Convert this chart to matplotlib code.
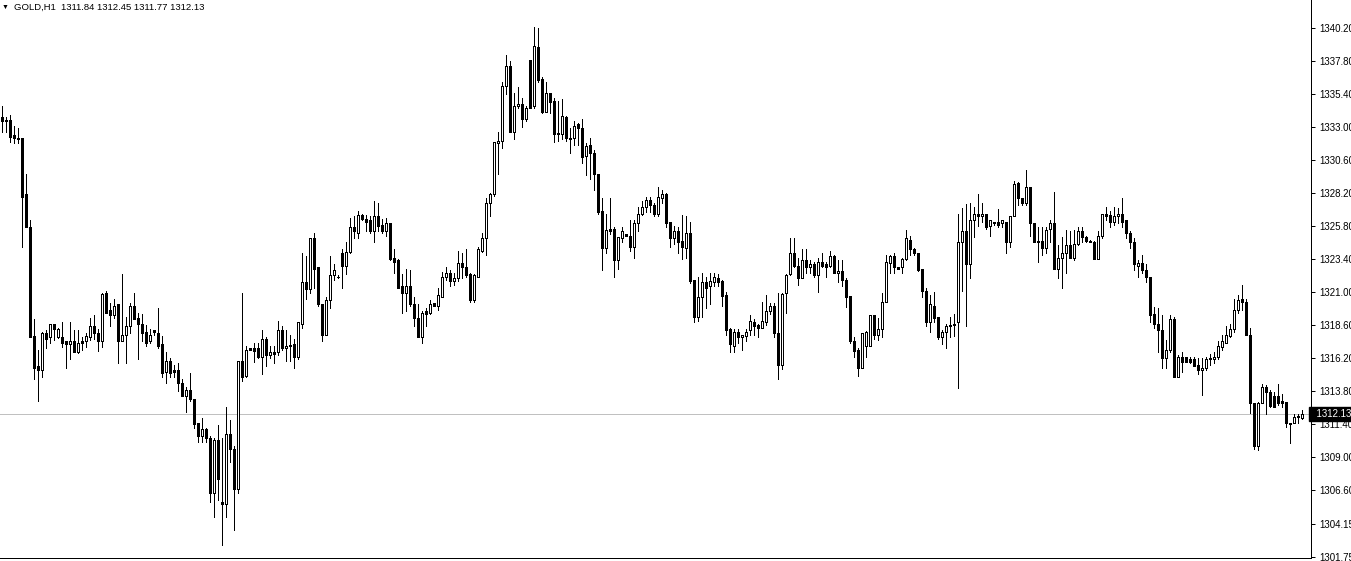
import matplotlib
matplotlib.use("Agg")
import matplotlib.pyplot as plt
import matplotlib.transforms as mtransforms

plt.rcParams['font.family'] = ['Liberation Sans', 'DejaVu Sans']

# chart header / axis values
symbol = "GOLD,H1"
last_ohlc = ["1311.84", "1312.45", "1311.77", "1312.13"]
bid = 1312.13
price_ticks = [1340.20, 1337.80, 1335.40, 1333.00, 1330.60, 1328.20, 1325.80, 1323.40,
               1321.00, 1318.60, 1316.20, 1313.80, 1311.40, 1309.00, 1306.60, 1304.15, 1301.75]
price_labels = ["%.2f" % p for p in price_ticks]

# hourly candles, oldest first
opens = [
    1333.7, 1333.5, 1333.5, 1332.4, 1332.2, 1332.2, 1328.1, 1325.7, 1317.8, 1315.6,
    1315.3, 1318.0, 1317.7, 1318.7, 1317.7, 1317.7, 1317.4, 1317.2, 1317.4, 1316.6,
    1317.4, 1317.4, 1317.7, 1318.5, 1318.0, 1317.4, 1320.9, 1319.7, 1319.3, 1320.1,
    1317.4, 1317.9, 1318.5, 1320.0, 1319.1, 1318.7, 1318.1, 1317.4, 1318.2, 1318.0,
    1317.2, 1315.2, 1316.0, 1315.3, 1315.3, 1314.4, 1313.4, 1313.9, 1313.2, 1311.5,
    1310.5, 1311.0, 1310.4, 1306.4, 1310.2, 1305.7, 1305.6, 1310.7, 1309.6, 1306.7,
    1316.0, 1314.9, 1316.9, 1316.9, 1316.9, 1316.3, 1317.6, 1316.4, 1316.6, 1316.6,
    1318.2, 1316.9, 1317.15, 1317.2, 1316.3, 1318.7, 1321.7, 1321.2, 1324.9, 1322.8,
    1320.1, 1317.9, 1320.4, 1322.2, 1322.1, 1323.8, 1322.9, 1323.9, 1325.7, 1325.3,
    1326.6, 1326.3, 1326.2, 1325.4, 1326.5, 1325.9, 1325.4, 1326.0, 1323.5, 1323.3,
    1321.4, 1320.9, 1321.4, 1320.1, 1319.1, 1317.7, 1319.6, 1319.5, 1320.2, 1320.0,
    1320.6, 1322.1, 1322.4, 1321.8, 1322.0, 1323.1, 1322.8, 1322.3, 1320.4, 1322.1,
    1324.0, 1324.9, 1327.5, 1328.1, 1331.8, 1332.0, 1336.0, 1337.4, 1332.6, 1334.5,
    1334.7, 1333.6, 1337.9, 1334.5, 1338.8, 1336.5, 1334.1, 1335.5, 1334.9, 1332.55,
    1332.5, 1333.7, 1332.2, 1332.2, 1333.2, 1332.9, 1330.9, 1331.7, 1331.1, 1329.6,
    1326.9, 1324.2, 1325.6, 1325.6, 1323.3, 1324.9, 1325.2, 1325.1, 1324.3, 1326.0,
    1326.7, 1327.2, 1327.7, 1327.3, 1326.7, 1327.8, 1328.1, 1326.1, 1324.9, 1325.4,
    1324.7, 1324.2, 1325.3, 1321.9, 1319.2, 1320.6, 1321.7, 1321.4, 1321.7, 1322.0,
    1321.8, 1320.8, 1318.3, 1317.1, 1318.1, 1317.7, 1317.8, 1318.2, 1318.8, 1318.6,
    1318.4, 1318.8, 1319.6, 1320.0, 1318.0, 1315.7, 1320.9, 1322.3, 1323.8, 1322.9,
    1322.0, 1323.3, 1322.8, 1323.0, 1322.2, 1323.2, 1323.0, 1322.9, 1323.6, 1322.4,
    1322.5, 1321.9, 1320.7, 1317.4, 1316.8, 1315.5, 1317.1, 1317.1, 1319.3, 1317.9,
    1318.3, 1320.3, 1323.1, 1323.6, 1322.8, 1322.8, 1323.4, 1324.8, 1324.1, 1323.8,
    1322.7, 1321.1, 1318.8, 1320.0, 1319.2, 1317.7, 1318.1, 1318.5, 1318.6, 1318.8,
    1324.6, 1325.4, 1323.0, 1326.2, 1326.7, 1326.5, 1326.7, 1325.8, 1326.1, 1326.1,
    1326.0, 1326.1, 1324.6, 1326.5, 1328.9, 1327.8, 1327.5, 1328.6, 1326.0, 1324.7,
    1324.7, 1324.2, 1325.6, 1326.0, 1322.7, 1323.5, 1323.8, 1324.4, 1323.5, 1324.5,
    1325.4, 1325.0, 1324.7, 1324.6, 1323.4, 1325.1, 1326.7, 1326.6, 1326.1, 1326.5,
    1326.7, 1326.2, 1325.3, 1324.6, 1322.9, 1323.1, 1322.6, 1322.1, 1319.4, 1318.7,
    1318.2, 1316.2, 1316.8, 1319.0, 1314.8, 1316.3, 1316.3, 1316.1, 1316.1, 1315.7,
    1315.3, 1315.5, 1316.1, 1316.1, 1316.3, 1317.0, 1317.3, 1317.8, 1318.3, 1319.7,
    1320.5, 1320.3, 1317.9, 1312.9, 1309.8, 1312.9, 1314.1, 1313.7, 1313.4, 1313.4,
    1313.1, 1313.0, 1311.5, 1311.5, 1311.9, 1311.84,
]
highs = [
    1334.5, 1333.7, 1333.9, 1333.1, 1332.9, 1332.2, 1329.6, 1326.2, 1319.0, 1316.8,
    1318.1, 1318.2, 1318.7, 1318.7, 1318.4, 1318.8, 1317.4, 1318.8, 1318.2, 1318.2,
    1317.7, 1318.0, 1319.1, 1319.3, 1318.3, 1320.95, 1321.1, 1320.2, 1320.5, 1320.1,
    1322.3, 1319.2, 1320.2, 1320.9, 1319.5, 1319.4, 1318.6, 1318.3, 1318.2, 1319.8,
    1317.8, 1316.6, 1316.2, 1315.7, 1315.8, 1314.7, 1314.1, 1315.1, 1313.2, 1311.5,
    1311.8, 1311.1, 1310.5, 1310.4, 1311.3, 1310.4, 1312.6, 1311.7, 1309.8, 1316.0,
    1320.9, 1317.1, 1316.9, 1317.3, 1317.3, 1318.2, 1317.7, 1317.1, 1317.1, 1318.9,
    1318.5, 1318.2, 1317.9, 1317.6, 1318.8, 1323.8, 1323.6, 1324.9, 1325.3, 1322.8,
    1320.1, 1320.6, 1323.6, 1323.0, 1322.2, 1324.1, 1324.6, 1326.4, 1326.5, 1326.9,
    1326.7, 1326.6, 1326.5, 1327.6, 1327.5, 1326.3, 1326.4, 1326.0, 1324.1, 1323.4,
    1322.3, 1322.7, 1322.6, 1320.6, 1320.1, 1319.6, 1319.8, 1320.4, 1320.2, 1321.3,
    1322.45, 1322.8, 1322.6, 1322.4, 1324.0, 1323.8, 1324.1, 1322.4, 1322.3, 1324.3,
    1325.3, 1327.8, 1328.2, 1331.9, 1332.6, 1336.3, 1338.2, 1337.8, 1335.5, 1335.9,
    1335.1, 1334.5, 1337.9, 1340.3, 1340.2, 1336.6, 1336.3, 1335.5, 1335.1, 1334.9,
    1335.0, 1333.8, 1332.9, 1333.4, 1333.3, 1333.6, 1331.8, 1332.2, 1331.3, 1329.6,
    1327.8, 1326.7, 1327.8, 1325.7, 1325.0, 1325.7, 1325.2, 1326.2, 1326.2, 1327.2,
    1327.6, 1327.9, 1327.9, 1327.5, 1328.6, 1328.4, 1328.2, 1326.1, 1325.8, 1325.7,
    1326.6, 1326.5, 1326.1, 1321.9, 1322.1, 1322.4, 1322.1, 1322.4, 1322.4, 1322.3,
    1321.9, 1321.0, 1318.4, 1318.3, 1318.3, 1317.9, 1318.3, 1319.3, 1319.0, 1318.7,
    1320.3, 1320.8, 1320.2, 1320.2, 1320.9, 1320.95, 1322.3, 1324.9, 1324.9, 1323.5,
    1324.1, 1324.1, 1323.3, 1323.2, 1323.5, 1323.8, 1323.2, 1324.0, 1323.7, 1323.3,
    1323.3, 1322.0, 1320.7, 1317.7, 1316.9, 1318.0, 1318.15, 1319.3, 1319.3, 1319.1,
    1320.9, 1323.7, 1323.7, 1323.8, 1322.8, 1323.5, 1325.5, 1325.1, 1324.2, 1323.8,
    1322.7, 1321.3, 1320.8, 1321.0, 1319.2, 1318.2, 1318.7, 1319.2, 1319.4, 1326.7,
    1327.1, 1327.4, 1327.5, 1327.2, 1328.1, 1327.5, 1326.7, 1326.25, 1326.1, 1327.0,
    1326.2, 1326.1, 1326.5, 1329.1, 1329.0, 1327.8, 1329.9, 1328.6, 1326.0, 1325.7,
    1325.7, 1325.7, 1326.2, 1328.3, 1324.4, 1325.0, 1325.5, 1325.4, 1325.5, 1325.7,
    1325.7, 1325.1, 1324.8, 1324.7, 1325.4, 1326.7, 1327.2, 1326.9, 1327.2, 1327.1,
    1327.8, 1326.2, 1325.4, 1324.9, 1323.3, 1323.7, 1323.0, 1322.1, 1319.9, 1319.8,
    1319.3, 1317.5, 1319.3, 1319.2, 1316.4, 1316.6, 1316.3, 1316.3, 1316.3, 1316.2,
    1316.2, 1316.3, 1316.5, 1316.6, 1317.4, 1317.9, 1318.5, 1318.7, 1320.5, 1320.8,
    1321.5, 1320.5, 1318.4, 1312.9, 1313.0, 1314.3, 1314.2, 1313.9, 1313.7, 1314.3,
    1313.6, 1313.0, 1311.5, 1312.1, 1312.1, 1312.45,
]
lows = [
    1332.6, 1332.6, 1331.9, 1331.8, 1331.8, 1324.3, 1325.7, 1317.7, 1314.7, 1313.1,
    1314.8, 1316.9, 1317.3, 1317.5, 1317.66, 1317.0, 1315.5, 1316.1, 1316.6, 1316.55,
    1316.8, 1317.0, 1317.5, 1317.6, 1316.7, 1317.0, 1319.5, 1318.5, 1319.1, 1315.8,
    1317.4, 1315.8, 1318.0, 1319.0, 1316.1, 1317.4, 1317.1, 1317.3, 1317.9, 1316.9,
    1314.8, 1314.4, 1314.8, 1314.8, 1313.8, 1313.4, 1312.3, 1313.1, 1311.1, 1310.1,
    1310.1, 1310.1, 1305.7, 1304.6, 1305.9, 1302.6, 1304.6, 1308.6, 1303.7, 1306.4,
    1314.5, 1314.8, 1316.8, 1315.9, 1316.2, 1315.0, 1315.6, 1316.2, 1315.8, 1316.4,
    1316.8, 1316.0, 1316.0, 1315.5, 1316.1, 1318.4, 1320.5, 1320.9, 1321.3, 1320.0,
    1317.4, 1317.9, 1319.8, 1321.9, 1322.0, 1321.3, 1322.3, 1323.8, 1324.9, 1324.9,
    1326.2, 1325.4, 1325.3, 1324.6, 1325.4, 1325.3, 1325.1, 1323.3, 1322.4, 1321.3,
    1319.5, 1319.6, 1320.0, 1318.5, 1317.7, 1317.3, 1318.5, 1319.4, 1320.0, 1319.7,
    1320.6, 1321.9, 1321.4, 1321.5, 1321.8, 1322.0, 1322.1, 1320.3, 1320.3, 1322.1,
    1323.9, 1323.7, 1326.5, 1328.0, 1329.6, 1331.5, 1335.4, 1332.6, 1332.1, 1334.4,
    1333.0, 1333.4, 1334.4, 1334.4, 1336.3, 1334.0, 1334.1, 1334.0, 1331.9, 1332.0,
    1332.1, 1332.0, 1331.1, 1331.7, 1331.7, 1330.4, 1329.5, 1329.2, 1328.4, 1326.7,
    1322.6, 1323.8, 1325.2, 1322.1, 1322.7, 1324.6, 1325.1, 1324.0, 1323.5, 1325.4,
    1326.6, 1326.8, 1326.8, 1326.5, 1326.5, 1327.5, 1325.7, 1324.3, 1324.5, 1323.8,
    1323.4, 1323.5, 1321.65, 1318.8, 1318.9, 1319.2, 1319.8, 1320.1, 1321.4, 1321.4,
    1320.0, 1317.9, 1316.6, 1316.6, 1317.3, 1316.8, 1317.4, 1317.9, 1317.9, 1317.7,
    1318.4, 1318.6, 1319.4, 1317.7, 1314.7, 1315.4, 1319.5, 1322.2, 1322.8, 1321.5,
    1322.0, 1322.4, 1322.4, 1322.1, 1321.0, 1322.8, 1322.1, 1322.8, 1322.35, 1321.7,
    1321.4, 1319.9, 1317.3, 1316.3, 1314.9, 1315.45, 1316.3, 1317.1, 1317.6, 1317.5,
    1317.7, 1320.3, 1322.4, 1322.4, 1322.7, 1322.4, 1323.3, 1323.7, 1323.7, 1322.5,
    1320.6, 1318.5, 1318.1, 1318.8, 1317.6, 1317.2, 1316.9, 1317.7, 1317.8, 1314.0,
    1321.1, 1318.5, 1322.0, 1325.0, 1325.8, 1326.1, 1325.6, 1325.1, 1325.9, 1325.7,
    1325.7, 1323.8, 1324.3, 1326.5, 1327.3, 1327.3, 1327.3, 1325.1, 1324.6, 1323.2,
    1323.7, 1323.8, 1324.6, 1322.7, 1322.0, 1321.3, 1322.4, 1323.5, 1323.3, 1324.4,
    1324.6, 1324.6, 1324.6, 1323.4, 1323.4, 1324.9, 1326.2, 1325.7, 1325.9, 1326.0,
    1325.7, 1324.9, 1324.2, 1322.6, 1322.1, 1322.4, 1321.7, 1318.8, 1318.4, 1316.6,
    1315.5, 1315.5, 1316.6, 1314.8, 1314.8, 1315.2, 1315.9, 1315.8, 1315.6, 1315.0,
    1313.5, 1315.3, 1315.7, 1315.8, 1316.1, 1316.8, 1317.3, 1317.7, 1318.1, 1319.5,
    1319.7, 1317.9, 1312.2, 1309.6, 1309.5, 1312.9, 1312.1, 1312.6, 1312.6, 1312.8,
    1312.6, 1311.2, 1310.0, 1311.5, 1311.5, 1311.77,
]
closes = [
    1333.4, 1333.4, 1332.3, 1332.2, 1332.1, 1327.9, 1325.7, 1317.7, 1315.5, 1315.3,
    1318.0, 1317.6, 1318.7, 1318.3, 1318.3, 1317.3, 1317.2, 1317.4, 1316.6, 1317.3,
    1317.3, 1317.8, 1318.5, 1318.0, 1317.4, 1320.85, 1319.5, 1319.3, 1320.0, 1317.4,
    1317.9, 1318.5, 1320.0, 1319.0, 1318.7, 1318.0, 1317.3, 1317.9, 1318.1, 1317.1,
    1315.1, 1316.0, 1315.1, 1315.2, 1314.4, 1313.4, 1313.9, 1313.2, 1311.4, 1310.5,
    1311.0, 1310.4, 1306.4, 1310.2, 1307.4, 1305.6, 1310.7, 1309.6, 1306.7, 1316.0,
    1314.8, 1316.8, 1316.8, 1316.7, 1316.3, 1317.6, 1316.4, 1316.6, 1316.5, 1318.2,
    1316.9, 1317.1, 1317.1, 1316.3, 1318.8, 1321.7, 1321.2, 1324.9, 1322.7, 1320.1,
    1317.9, 1320.4, 1322.2, 1322.6, 1322.1, 1322.9, 1323.9, 1325.7, 1325.4, 1326.6,
    1326.3, 1326.1, 1325.4, 1326.5, 1325.8, 1325.4, 1326.0, 1323.4, 1323.2, 1321.3,
    1320.9, 1321.4, 1320.1, 1319.1, 1317.7, 1319.5, 1319.4, 1320.1, 1320.0, 1320.8,
    1322.1, 1322.4, 1321.8, 1322.0, 1323.1, 1322.8, 1322.2, 1320.4, 1322.2, 1324.1,
    1324.9, 1327.5, 1328.1, 1331.9, 1332.0, 1336.0, 1337.4, 1332.6, 1334.5, 1334.7,
    1333.6, 1334.4, 1334.4, 1338.9, 1336.4, 1334.1, 1335.5, 1334.8, 1332.5, 1332.5,
    1333.8, 1332.2, 1332.15, 1333.1, 1332.9, 1330.8, 1331.6, 1331.1, 1329.6, 1326.8,
    1324.2, 1325.5, 1325.4, 1323.3, 1325.0, 1325.4, 1325.1, 1324.3, 1326.0, 1326.7,
    1327.2, 1327.7, 1327.3, 1326.7, 1327.9, 1328.1, 1326.0, 1324.9, 1325.4, 1324.6,
    1324.3, 1325.3, 1321.8, 1319.2, 1320.6, 1321.7, 1321.3, 1321.8, 1322.1, 1321.7,
    1320.7, 1318.2, 1317.2, 1318.1, 1317.7, 1317.9, 1318.1, 1318.9, 1318.5, 1318.4,
    1318.9, 1319.6, 1320.0, 1318.0, 1315.7, 1320.85, 1322.2, 1323.8, 1322.9, 1322.0,
    1323.3, 1322.8, 1323.0, 1322.2, 1323.2, 1322.9, 1322.8, 1323.6, 1322.4, 1322.5,
    1321.9, 1320.6, 1317.4, 1316.7, 1315.5, 1318.0, 1318.1, 1319.3, 1317.9, 1318.3,
    1320.3, 1323.2, 1323.6, 1322.8, 1322.7, 1323.4, 1324.9, 1324.1, 1323.8, 1322.6,
    1321.1, 1318.8, 1320.1, 1319.1, 1317.7, 1318.1, 1318.5, 1318.6, 1318.7, 1324.6,
    1325.4, 1323.0, 1326.2, 1326.7, 1326.5, 1326.7, 1325.7, 1326.2, 1326.0, 1325.9,
    1326.2, 1324.6, 1326.5, 1328.85, 1327.8, 1327.5, 1328.6, 1326.0, 1324.6, 1324.6,
    1324.2, 1325.5, 1326.0, 1322.7, 1323.5, 1323.8, 1324.4, 1323.5, 1324.5, 1325.4,
    1325.0, 1324.7, 1324.65, 1323.4, 1325.1, 1326.7, 1326.5, 1326.1, 1326.5, 1326.7,
    1326.1, 1325.3, 1324.6, 1323.0, 1323.1, 1322.6, 1322.1, 1319.3, 1318.7, 1318.2,
    1316.2, 1316.8, 1319.0, 1314.8, 1316.3, 1315.9, 1315.9, 1315.9, 1315.6, 1315.3,
    1315.5, 1316.1, 1316.2, 1316.3, 1317.1, 1317.4, 1317.9, 1318.3, 1319.7, 1320.4,
    1320.3, 1317.9, 1312.9, 1309.8, 1312.9, 1314.1, 1313.7, 1312.7, 1312.6, 1312.9,
    1312.9, 1311.5, 1311.4, 1311.9, 1312.0, 1312.13,
]

px = 0.72  # one screen pixel in points at 100 dpi
W, H = 1351, 561
fig = plt.figure(figsize=(W / 100, H / 100), dpi=100)
fig.patch.set_facecolor("white")
ax = fig.add_axes([0, 3 / H, 1311 / W, 558 / H])

idx = list(range(len(closes)))
bull = [c >= o for o, c in zip(opens, closes)]

ax.axhline(bid, color="#c0c0c0", linewidth=px, zorder=1)
ax.vlines(idx, lows, highs, color="black", linewidth=px, antialiased=False, zorder=2)
ax.bar(idx, [c - o for o, c in zip(opens, closes)], bottom=opens, width=0.5,
       color=["white" if b else "black" for b in bull], edgecolor="black",
       linewidth=px, antialiased=False, zorder=3)

ax.set_xlim(-0.5, 327.25)
ax.set_ylim(1301.654, 1342.236)
for side in ["left", "top"]:
    ax.spines[side].set_visible(False)
for side in ["right", "bottom"]:
    ax.spines[side].set_linewidth(px)
ax.yaxis.tick_right()
ax.set_yticks(price_ticks)
ax.set_yticklabels(price_labels)
ax.tick_params(axis="y", direction="out", length=3, width=px, pad=3, labelsize=7)
ax.set_xticks([])

# bid price tag on the scale
trans = mtransforms.blended_transform_factory(ax.transAxes, ax.transData)
ax.text(1.0, bid, "  " + "%.2f" % bid + "      ", transform=trans, ha="left", va="center",
        fontsize=7, color="white", clip_on=False,
        bbox=dict(boxstyle="square,pad=0.2", facecolor="black", edgecolor="black"))

# header
fig.text(2 / W, 1 - 7 / H, "\u25bc", fontsize=5, va="center", ha="left")
fig.text(14 / W, 1 - 7 / H, symbol + "  " + " ".join(last_ohlc), fontsize=6.8,
         va="center", ha="left")

fig.savefig("out.png", dpi=100, facecolor="white")
